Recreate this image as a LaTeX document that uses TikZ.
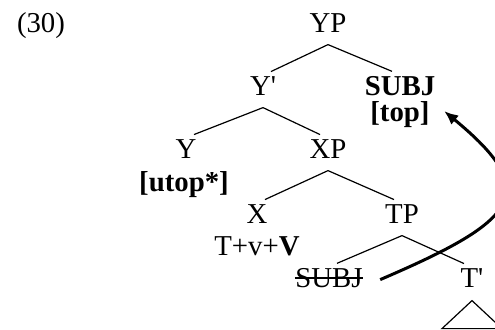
\documentclass[tikz,border=0pt]{standalone}
\usepackage{fontspec}
\setmainfont{Liberation Serif}
\usetikzlibrary{arrows.meta}
% mother node, left daughter, right daughter
\newcommand{\branch}[3] {
    \draw ([yshift=-4pt]#1.south) -- ([xshift=4pt]#2.north);
    \draw ([yshift=-4pt]#1.south) -- ([xshift=-4pt]#3.north);
}
\tikzset{
    cat/.style={
        inner xsep=0pt,
        inner ysep=2pt,
        anchor=base,
        font=\fontsize{14.4}{17}\selectfont
    },
    feat/.style={cat,inner ysep=0pt},
    x={(0.5pt,0pt)},
    y={(0pt,-0.5pt)}
}
\begin{document}
\begin{tikzpicture}[line width=0.6pt]
    \useasboundingbox (0,0) rectangle (495,329);
    \node[cat] (ex) at (41,32) {(30)};
    \node[cat] (yp) at (328,32) {YP};
    \node[cat] (ybar) at (263,95) {Y\textquotesingle};
    \node[cat] (subj) at (400,95) {\textbf{SUBJ}};
    \node[feat] (top) at (400,121) {\textbf{[top]}};
    \node[cat] (y) at (186,158) {Y};
    \node[cat] (xp) at (328,158) {XP};
    \node[feat] (utop) at (184,191) {\textbf{[utop*]}};
    \node[cat] (x) at (257,223) {X};
    \node[cat] (tp) at (402,223) {TP};
    \node[feat] (tvv) at (257,255) {T+v+\textbf{V}};
    \node[cat] (trace) at (329,287) {SUBJ};
    \node[cat] (tbar) at (472,287) {T\textquotesingle};
    \branch{yp}{ybar}{subj}
    \branch{ybar}{y}{xp}
    \branch{xp}{x}{tp}
    \branch{tp}{trace}{tbar}
    % struck-out copy
    \draw ([yshift=4.5pt]trace.base west) -- ([yshift=4.5pt]trace.base east);
    % roof under T'
    \draw ([yshift=-4.5pt]tbar.south) -- ++(-30,28) -- ++(60,0) -- cycle;
    % movement
    \draw[line width=1.5pt,-{Latex[length=7pt,width=6pt]}]
        ([xshift=8.5pt,yshift=-1pt]trace.east)
        .. controls +(140,-60) and +(98,81) .. ([xshift=7pt,yshift=1.5pt]top.east);
\end{tikzpicture}
\end{document}
